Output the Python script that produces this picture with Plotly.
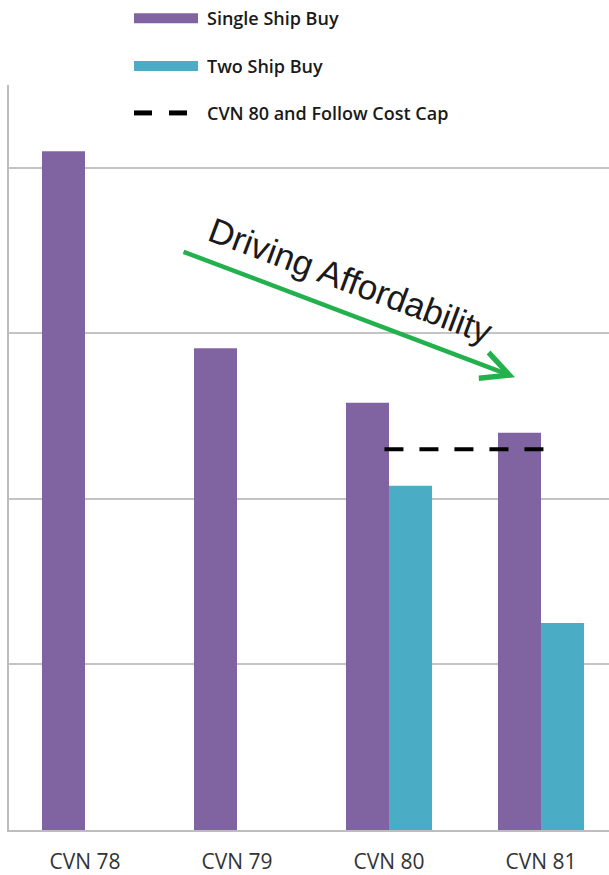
import plotly.graph_objects as go

categories = ["CVN 78", "CVN 79", "CVN 80", "CVN 81"]
single_ship = [4.10, 2.91, 2.58, 2.40]
two_ship = [None, None, 2.08, 1.25]
cost_cap_value = 2.30
cost_cap_span = ["CVN 80", "CVN 81"]

PURPLE = "#8064a2"
TEAL = "#4bacc6"
GRID = "#c4c4c4"

W, H = 609, 875
L, R, T, B = 9, 0, 85, 43
pw, ph = W - L - R, H - T - B

def px(x):
    return (x - L) / pw

def py(y):
    return (H - B - y) / ph

xs = list(range(len(categories)))

fig = go.Figure()
fig.add_trace(go.Bar(x=xs, y=single_ship, name="Single Ship Buy",
                     marker=dict(color=PURPLE, line=dict(width=0))))
fig.add_trace(go.Bar(x=xs, y=two_ship, name="Two Ship Buy",
                     marker=dict(color=TEAL, line=dict(width=0))))

i0 = categories.index(cost_cap_span[0])
i1 = categories.index(cost_cap_span[1])
fig.add_trace(go.Scatter(x=[i0 - 0.03, i1 + 0.03], y=[cost_cap_value] * 2,
                         mode="lines", name="CVN 80 and Follow Cost Cap",
                         line=dict(color="black", width=4, dash="19px,16px")))

fig.update_layout(
    width=W, height=H,
    margin=dict(l=L, r=R, t=T, b=B, pad=0),
    paper_bgcolor="white", plot_bgcolor="white",
    barmode="group", bargap=0.434, bargroupgap=0,
    showlegend=False,
    font=dict(family="Open Sans", color="#404040"),
)
fig.update_xaxes(
    range=[-0.5, -0.5 + pw / 152.0],
    tickvals=xs, ticktext=categories,
    tickfont=dict(family="Open Sans", size=21, color="#333333"),
    showgrid=False, zeroline=False,
    showline=True, linecolor="#bdbdbd", linewidth=2,
    ticks="", ticklabelstandoff=12,
)
fig.update_yaxes(
    range=[0, 4.5], dtick=1, showticklabels=False,
    showgrid=True, gridcolor=GRID, gridwidth=2,
    zeroline=False, showline=True, linecolor="#bdbdbd", linewidth=2,
    ticks="",
)

# manual legend
legend_rows = [
    ("Single Ship Buy", 18, "bar", PURPLE),
    ("Two Ship Buy", 66, "bar", TEAL),
    ("CVN 80 and Follow Cost Cap", 113, "dash", "black"),
]
for label, yc, kind, col in legend_rows:
    if kind == "bar":
        fig.add_shape(type="rect", xref="paper", yref="paper",
                      x0=px(134), x1=px(198), y0=py(yc + 5), y1=py(yc - 5),
                      fillcolor=col, line=dict(width=0))
    else:
        for a, b in [(134, 152), (169, 187)]:
            fig.add_shape(type="line", xref="paper", yref="paper",
                          x0=px(a), x1=px(b), y0=py(yc), y1=py(yc),
                          line=dict(color=col, width=5))
    fig.add_annotation(xref="paper", yref="paper", x=px(205), y=py(yc),
                       xanchor="left", yanchor="middle", showarrow=False,
                       text=label,
                       font=dict(family="Open Sans", size=18, color="#1a1a1a", weight=600))

# arrow
fig.add_annotation(xref="paper", yref="paper", x=px(515), y=py(378),
                   ax=182 - 515, ay=252 - 378, showarrow=True,
                   arrowhead=5, arrowsize=1.2, arrowwidth=4.5, arrowcolor="#22b14c",
                   text="")
fig.add_annotation(xref="paper", yref="paper", x=px(351), y=py(281),
                   xanchor="center", yanchor="middle",
                   showarrow=False, text="Driving Affordability", textangle=20.5,
                   font=dict(family="Liberation Sans", size=35, color="#1a1a1a"))

fig.write_html("out.html")
